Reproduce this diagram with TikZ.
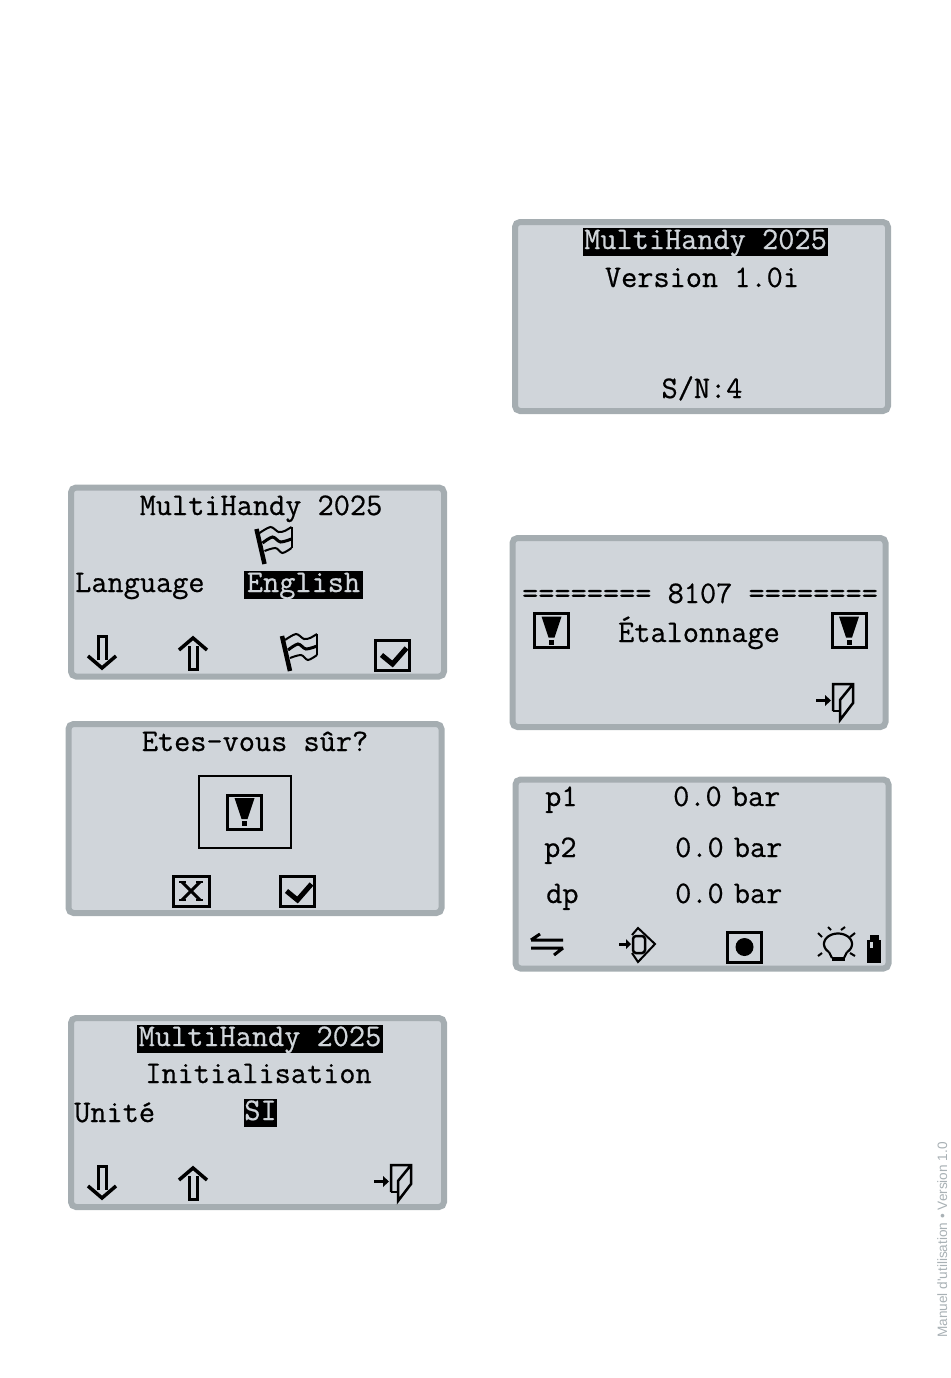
\documentclass[tikz,border=0pt]{standalone}
\usepackage{fontspec}
\newfontfamily\sidefont{Liberation Sans}
\newfontfamily\lcdfont[FakeBold=0.6]{Latin Modern Mono}
\definecolor{lcdface}{HTML}{D0D5DA}
\definecolor{lcdedge}{HTML}{A5ADB1}
\definecolor{sidegray}{HTML}{A9B1B5}
\tikzset{
  lcdpanel/.style={draw=lcdedge,fill=lcdface,line width=6pt,rounded corners=5pt,
    minimum width=373pt,minimum height=189pt,inner sep=0pt},
  lcdtext/.style={font=\fontsize{31.4}{31.4}\selectfont\lcdfont,inner sep=0pt,anchor=base,text=black},
  lcdleft/.style={lcdtext,anchor=base west},
  lcdinv/.style={lcdtext,fill=black,text=lcdface,text height=21pt,text depth=7pt},
  icon/.style={line width=3pt,line join=miter},
  warnbox/.pic={
    \draw[icon] (-17,-17) rectangle (17,17);
    \fill (-10,-14) -- (10,-14) -- (3,7) -- (-3,7) -- cycle;
    \fill (-2.5,9) rectangle (2.5,14);
  },
  checkbox/.pic={
    \draw[icon] (-17,-15) rectangle (17,15);
    \draw[line width=5pt] (-11,0) -- (0,9) -- (14,-7);
  },
  crossbox/.pic={
    \draw[icon] (-18,-15) rectangle (18,15);
    \draw[icon] (-9,-9) -- (9,9) (9,-9) -- (-9,9);
    \draw[line width=1.5pt] (-12,-9) -- (-5,-9) (5,-9) -- (12,-9) (-12,9) -- (-5,9) (5,9) -- (12,9);
  },
  downarrow/.pic={
    \draw[icon] (-4,7) -- (-4,-17) -- (4,-17) -- (4,7);
    \draw[icon,line width=3.5pt] (-14,3) -- (0,15) -- (14,3);
  },
  uparrow/.pic={
    \draw[icon] (-4,-7) -- (-4,16) -- (4,16) -- (4,-7);
    \draw[icon,line width=3.5pt] (-14,-3) -- (0,-15) -- (14,-3);
  },
  flagicon/.pic={
    \draw[line width=4.5pt] (-17,-18) -- (-9,17);
    \draw[line width=2pt] plot[smooth] coordinates {(-14,-14) (-3,-20) (5,-15) (11,-16) (18,-20)};
    \draw[line width=2pt] (18,-20) -- (18,1);
    \draw[line width=3pt] plot[smooth] coordinates {(-11,-4) (-1,-10) (7,-5) (18,-8)};
    \draw[line width=2pt] plot[smooth] coordinates {(-9,4) (2,1) (9,6) (18,1)};
  },
  exiticon/.pic={
    \draw[line width=2.5pt] (-2,9) -- (-2,-18) -- (18,-18) -- (18,1) -- (5,18) -- (5,-2) -- (18,-18);
    \draw[line width=2.5pt] (-2,9) -- (5,9);
    \draw[line width=3pt] (-19,-1.5) -- (-9,-1.5);
    \fill (-10,-7) -- (-4,-1.5) -- (-10,4) -- cycle;
  },
  swapicon/.pic={
    \draw[icon] (-16,-4) -- (16,-4) (-16,-4) -- (-7,-10);
    \draw[icon] (-16,4) -- (16,4) (16,4) -- (7,11);
  },
  zeroicon/.pic={
    \draw[line width=2pt] (-5,-10) -- (1,-17) -- (18,-1) -- (1,17) -- (-5,8);
    \draw[line width=2.5pt,rounded corners=3pt] (-4,-9) rectangle (8,8);
    \draw[line width=3pt] (-18,-1) -- (-10,-1);
    \fill (-11,-6) -- (-6,-1) -- (-11,4) -- cycle;
  },
  recordbox/.pic={
    \draw[icon] (-17,-15) rectangle (17,15);
    \fill (0,0) circle (9);
  },
  bulbicon/.pic={
    \draw[line width=2.2pt] plot[smooth,samples=36,domain=-50:230] ({14*cos(\x)},{-10.5*sin(\x)});
    \draw[line width=2.2pt] (-9,8) -- (-6,14) (9,8) -- (6,14);
    \draw[line width=4.5pt] (-6.5,15) -- (6.5,15);
    \draw[line width=2pt] (-10,-17) -- (-7,-14) (7,-17) -- (3,-14)
      (-20,-11) -- (-16,-7) (17,-11) -- (12,-7) (-20,12) -- (-16,9) (17,12) -- (12,9);
  },
  batteryicon/.pic={
    \fill (-7,-9) rectangle (7,14);
    \fill (-4.5,-14) rectangle (4.5,-9);
    \fill[lcdface] (-4,-7) rectangle (-1,-1);
  },
}
\begin{document}
\begin{tikzpicture}[x=1pt,y=-1pt]
  \useasboundingbox (0,0) rectangle (950,1378);

  \node[lcdpanel] (version) at (701.5,316.5) {};
  \node[lcdpanel] (language) at (257.5,582) {};
  \node[lcdpanel] (confirm) at (255,818.5) {};
  \node[lcdpanel] (calib) at (699,632.5) {};
  \node[lcdpanel] (measure) at (702,874) {};
  \node[lcdpanel] (init) at (257.5,1112.5) {};

  \node[lcdinv,minimum width=245pt] (vtitle) at (705.5,249) {MultiHandy 2025};
  \node[lcdtext] (vnum) at (702,287) {Version 1.0i};
  \node[lcdtext] (vsn) at (702,398) {S/N:4};

  \node[lcdtext] (ltitle) at (261,515) {MultiHandy 2025};
  \node[lcdleft] (lname) at (75,592) {Language};
  \node[lcdinv,minimum width=119pt] (lvalue) at (303.5,592) {English};
  \path (273.5,547) pic {flagicon};
  \path (102,653) pic {downarrow};
  \path (193,653) pic {uparrow};
  \path (299,654) pic {flagicon};
  \path (392.5,655) pic {checkbox};

  \node[lcdtext] (ctitle) at (255,751) {Etes-vous sûr?};
  \node[draw,line width=2pt,minimum width=92pt,minimum height=72pt,inner sep=0pt] (cframe) at (244.5,812) {};
  \path (cframe.center) pic {warnbox};
  \path (191,891) pic {crossbox};
  \path (297.5,891) pic {checkbox};

  \node[lcdtext] (etop) at (700,603) {======== 8107 ========};
  \node[lcdtext] (ename) at (699,642) {Étalonnage};
  \path (551.5,630.5) pic {warnbox};
  \path (849,630.5) pic {warnbox};
  \path (835,702) pic {exiticon};

  \node[lcdleft] (mp1) at (545,806) {p1};
  \node[lcdleft] (mv1) at (673,806) {0.0\kern-6pt\ bar};
  \node[lcdleft] (mp2) at (544,857) {p2};
  \node[lcdleft] (mv2) at (675,857) {0.0\kern-6pt\ bar};
  \node[lcdleft] (mdp) at (546,903) {dp};
  \node[lcdleft] (mv3) at (675,903) {0.0\kern-6pt\ bar};
  \path (547,944) pic {swapicon};
  \path (637,945) pic {zeroicon};
  \path (744.5,947) pic {recordbox};
  \path (838,944) pic {bulbicon};
  \path (874,949) pic {batteryicon};

  \node[lcdinv,minimum width=246pt] (ititle) at (260,1046) {MultiHandy 2025};
  \node[lcdtext] (iname) at (258.5,1083) {Initialisation};
  \node[lcdleft] (iunit) at (74,1122) {Unité};
  \node[lcdinv,minimum width=33pt] (ivalue) at (260.5,1120) {SI};
  \path (102,1183) pic {downarrow};
  \path (193,1183) pic {uparrow};
  \path (393,1183) pic {exiticon};

  \node[rotate=90,anchor=base west,inner sep=0pt,text=sidegray,font=\sidefont\fontsize{13.6}{13.6}\selectfont] (footer) at (947,1338) {Manuel d'utilisation • Version 1.0};
\end{tikzpicture}
\end{document}
